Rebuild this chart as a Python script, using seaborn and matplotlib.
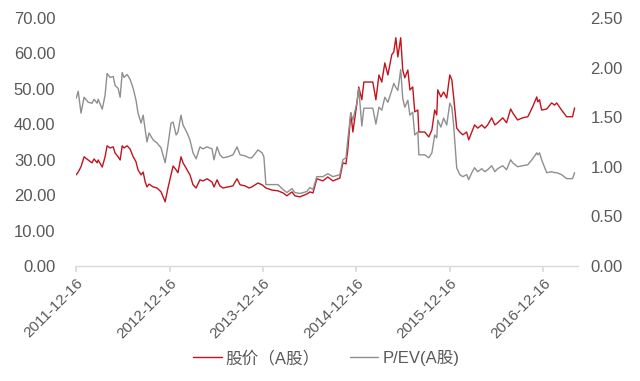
"""Share price vs P/EV (A shares), 2011-12 to 2017-04."""

import matplotlib.dates as mdates
import matplotlib.pyplot as plt
import pandas as pd
import seaborn as sns

DATES = [
    "2011-12-16", "2011-12-24", "2012-01-04", "2012-01-16", "2012-02-01", "2012-02-16",
    "2012-02-24", "2012-03-07", "2012-03-11", "2012-03-27", "2012-04-07", "2012-04-15",
    "2012-04-27", "2012-05-09", "2012-05-16", "2012-05-28", "2012-06-05", "2012-06-13",
    "2012-06-20", "2012-07-02", "2012-07-14", "2012-07-26", "2012-08-06", "2012-08-14",
    "2012-08-26", "2012-09-03", "2012-09-11", "2012-09-18", "2012-09-26", "2012-10-12",
    "2012-10-27", "2012-11-12", "2012-11-28", "2012-12-09", "2012-12-21", "2012-12-29",
    "2013-01-10", "2013-01-17", "2013-01-29", "2013-02-06", "2013-02-22", "2013-03-05",
    "2013-03-17", "2013-03-29", "2013-04-13", "2013-04-25", "2013-05-11", "2013-05-30",
    "2013-06-07", "2013-06-19", "2013-06-30", "2013-07-12", "2013-08-01", "2013-08-20",
    "2013-09-05", "2013-09-17", "2013-10-06", "2013-10-22",
    "2013-11-02", "2013-11-26", "2013-12-12", "2013-12-19", "2013-12-27", "2014-01-20",
    "2014-02-12", "2014-03-04", "2014-03-19", "2014-04-08", "2014-04-19", "2014-05-09",
    "2014-06-05", "2014-06-17", "2014-06-29", "2014-07-14", "2014-08-07", "2014-08-26",
    "2014-09-15", "2014-10-12", "2014-10-24", "2014-11-05", "2014-11-12", "2014-11-24",
    "2014-12-02", "2014-12-18", "2014-12-25", "2015-01-06", "2015-01-14", "2015-02-18",
    "2015-03-02", "2015-03-14", "2015-03-25", "2015-04-06", "2015-04-18", "2015-05-03",
    "2015-05-11", "2015-05-19", "2015-05-27", "2015-06-07", "2015-06-15",
    "2015-06-23", "2015-07-05", "2015-07-13", "2015-07-24", "2015-08-01", "2015-08-13",
    "2015-08-17", "2015-09-09", "2015-09-25", "2015-10-07", "2015-10-18", "2015-10-26",
    "2015-10-30", "2015-11-11", "2015-11-22", "2015-12-04", "2015-12-16", "2015-12-24",
    "2015-12-31", "2016-01-12", "2016-01-24", "2016-02-05", "2016-02-20", "2016-02-28",
    "2016-03-11", "2016-03-22", "2016-04-03", "2016-04-19", "2016-05-01", "2016-05-12",
    "2016-05-28", "2016-06-09", "2016-06-20", "2016-07-10", "2016-07-25", "2016-08-10",
    "2016-08-18", "2016-09-06", "2016-09-26", "2016-10-16", "2016-11-04", "2016-11-20",
    "2016-11-24", "2016-12-01", "2016-12-09", "2016-12-29", "2017-01-17", "2017-01-29",
    "2017-02-06", "2017-02-25", "2017-03-17", "2017-04-09", "2017-04-17",
]

PRICE = [
    25.7, 26.5, 28.0, 30.8, 29.9, 29.1, 30.2, 29.1, 29.9, 27.9, 30.8, 33.9,
    33.3, 33.6, 31.9, 30.8, 29.9, 33.9, 33.3, 33.9, 33.0, 30.8, 29.4, 27.1,
    25.7, 26.5, 23.7, 22.3, 23.1, 22.3, 22.0, 20.9, 18.1, 22.0, 25.7, 28.2,
    27.1, 26.3, 30.8, 29.1, 27.1, 25.7, 22.9, 22.0, 24.3, 24.0, 24.6, 23.7,
    22.3, 24.3, 22.6, 22.0, 22.3, 22.6, 24.6, 22.9, 22.6, 22.0,
    22.3, 23.4, 22.9, 22.5, 22.0, 21.4, 21.2, 20.6, 19.8, 20.9, 19.8, 19.5,
    20.3, 20.9, 20.6, 24.6, 24.0, 25.1, 24.0, 24.8, 29.1, 28.8, 32.7, 43.2,
    37.8, 46.0, 50.5, 46.9, 51.9, 51.9, 46.9, 53.9, 51.9, 57.3, 53.9, 59.6,
    60.4, 64.4, 59.0, 64.4, 55.3,
    53.1, 55.3, 49.7, 50.5, 43.5, 44.0, 37.8, 37.8, 36.4, 38.4, 44.0, 42.6,
    49.7, 47.7, 49.1, 47.4, 53.9, 52.5, 47.7, 38.9, 37.8, 37.0, 37.8, 35.6,
    37.8, 39.8, 38.9, 39.8, 38.9, 39.8, 41.8, 39.8, 40.4, 41.8, 40.4, 44.3,
    43.2, 41.2, 41.8, 42.1, 44.9, 47.7, 46.3, 46.9, 44.0, 44.3, 46.0, 45.4,
    46.0, 44.0, 42.1, 42.1, 44.6,
]

PEV = [
    1.69, 1.76, 1.54, 1.70, 1.65, 1.64, 1.68, 1.64, 1.68, 1.58, 1.72, 1.94,
    1.90, 1.91, 1.82, 1.79, 1.70, 1.95, 1.90, 1.93, 1.88, 1.79, 1.67, 1.54,
    1.44, 1.52, 1.37, 1.25, 1.34, 1.27, 1.24, 1.19, 1.04, 1.22, 1.44, 1.45,
    1.32, 1.35, 1.52, 1.42, 1.34, 1.27, 1.14, 1.08, 1.20, 1.18, 1.20, 1.18,
    1.07, 1.20, 1.12, 1.09, 1.10, 1.12, 1.20, 1.12, 1.11, 1.09,
    1.09, 1.17, 1.14, 1.10, 0.82, 0.82, 0.82, 0.77, 0.74, 0.78, 0.74, 0.73,
    0.75, 0.79, 0.77, 0.90, 0.90, 0.93, 0.90, 0.92, 1.07, 1.09, 1.27, 1.54,
    1.47, 1.65, 1.79, 1.41, 1.59, 1.59, 1.43, 1.60, 1.57, 1.70, 1.65, 1.77,
    1.84, 1.80, 1.77, 1.98, 1.69,
    1.60, 1.67, 1.52, 1.55, 1.32, 1.35, 1.12, 1.12, 1.09, 1.14, 1.32, 1.29,
    1.47, 1.40, 1.49, 1.42, 1.64, 1.60, 1.42, 0.99, 0.92, 0.90, 0.92, 0.87,
    0.94, 0.99, 0.95, 0.98, 0.95, 0.97, 1.01, 0.95, 0.98, 1.01, 0.97, 1.07,
    1.04, 1.00, 1.01, 1.02, 1.08, 1.14, 1.12, 1.14, 1.07, 0.94, 0.95, 0.94,
    0.94, 0.92, 0.88, 0.88, 0.94,
]

TICK_DATES = ["2011-12-16", "2012-12-16", "2013-12-16", "2014-12-16", "2015-12-16", "2016-12-16"]
LEFT_TICKS = [0, 10, 20, 30, 40, 50, 60, 70]
RIGHT_TICKS = [0.0, 0.5, 1.0, 1.5, 2.0, 2.5]

RED = "#c0141e"
GREY = "#8f8f8f"
TEXT = "#595959"

sns.set_theme(style="white")
plt.rcParams["font.family"] = ["Liberation Sans", "Noto Sans CJK SC", "DejaVu Sans"]

df = pd.DataFrame({"date": pd.to_datetime(DATES), "price": PRICE, "pev": PEV})

fig = plt.figure(figsize=(6.4, 3.81), dpi=100)
ax = fig.add_axes([0.119, 0.302, 0.784, 0.651])
ax2 = ax.twinx()

sns.lineplot(data=df, x="date", y="price", ax=ax, color=RED, linewidth=1.0, legend=False)
sns.lineplot(data=df, x="date", y="pev", ax=ax2, color=GREY, linewidth=1.0, legend=False)

ax.set_xlim(pd.Timestamp("2011-12-16"), pd.Timestamp("2017-04-30"))
ax.set_ylim(0, 70)
ax2.set_ylim(0, 2.5)

ax.set_yticks(LEFT_TICKS)
ax.set_yticklabels([f"{v:.2f}" for v in LEFT_TICKS])
ax2.set_yticks(RIGHT_TICKS)
ax2.set_yticklabels([f"{v:.2f}" for v in RIGHT_TICKS])

ax.set_xticks(pd.to_datetime(TICK_DATES))
ax.xaxis.set_major_formatter(mdates.DateFormatter("%Y-%m-%d"))
for lbl in ax.get_xticklabels():
    lbl.set_rotation(45)
    lbl.set_ha("right")
    lbl.set_rotation_mode("anchor")

ax.set_xlabel("")
ax.set_ylabel("")
ax2.set_ylabel("")

for a in (ax, ax2):
    for side in ("top", "left", "right", "bottom"):
        a.spines[side].set_visible(False)
ax.spines["bottom"].set_visible(True)
ax.spines["bottom"].set_color("#d9d9d9")
ax.spines["bottom"].set_linewidth(1.0)

ax.tick_params(axis="x", which="major", bottom=True, length=4, color="#d9d9d9", labelsize=11,
               labelcolor=TEXT, pad=3)
ax.tick_params(axis="y", left=False, length=0, labelsize=12, labelcolor=TEXT, pad=15)
ax2.tick_params(axis="y", right=False, length=0, labelsize=12, labelcolor=TEXT, pad=9)

handles = ax.get_lines()[:1] + ax2.get_lines()[:1]
fig.legend(handles, ["股价（A股）", "P/EV(A股)"], loc="center", bbox_to_anchor=(0.51, 0.06), ncol=2,
           frameon=False, fontsize=12, handlelength=1.7, handletextpad=0.25, columnspacing=1.8,
           labelcolor=TEXT)

fig.savefig("out.png", dpi=100)
